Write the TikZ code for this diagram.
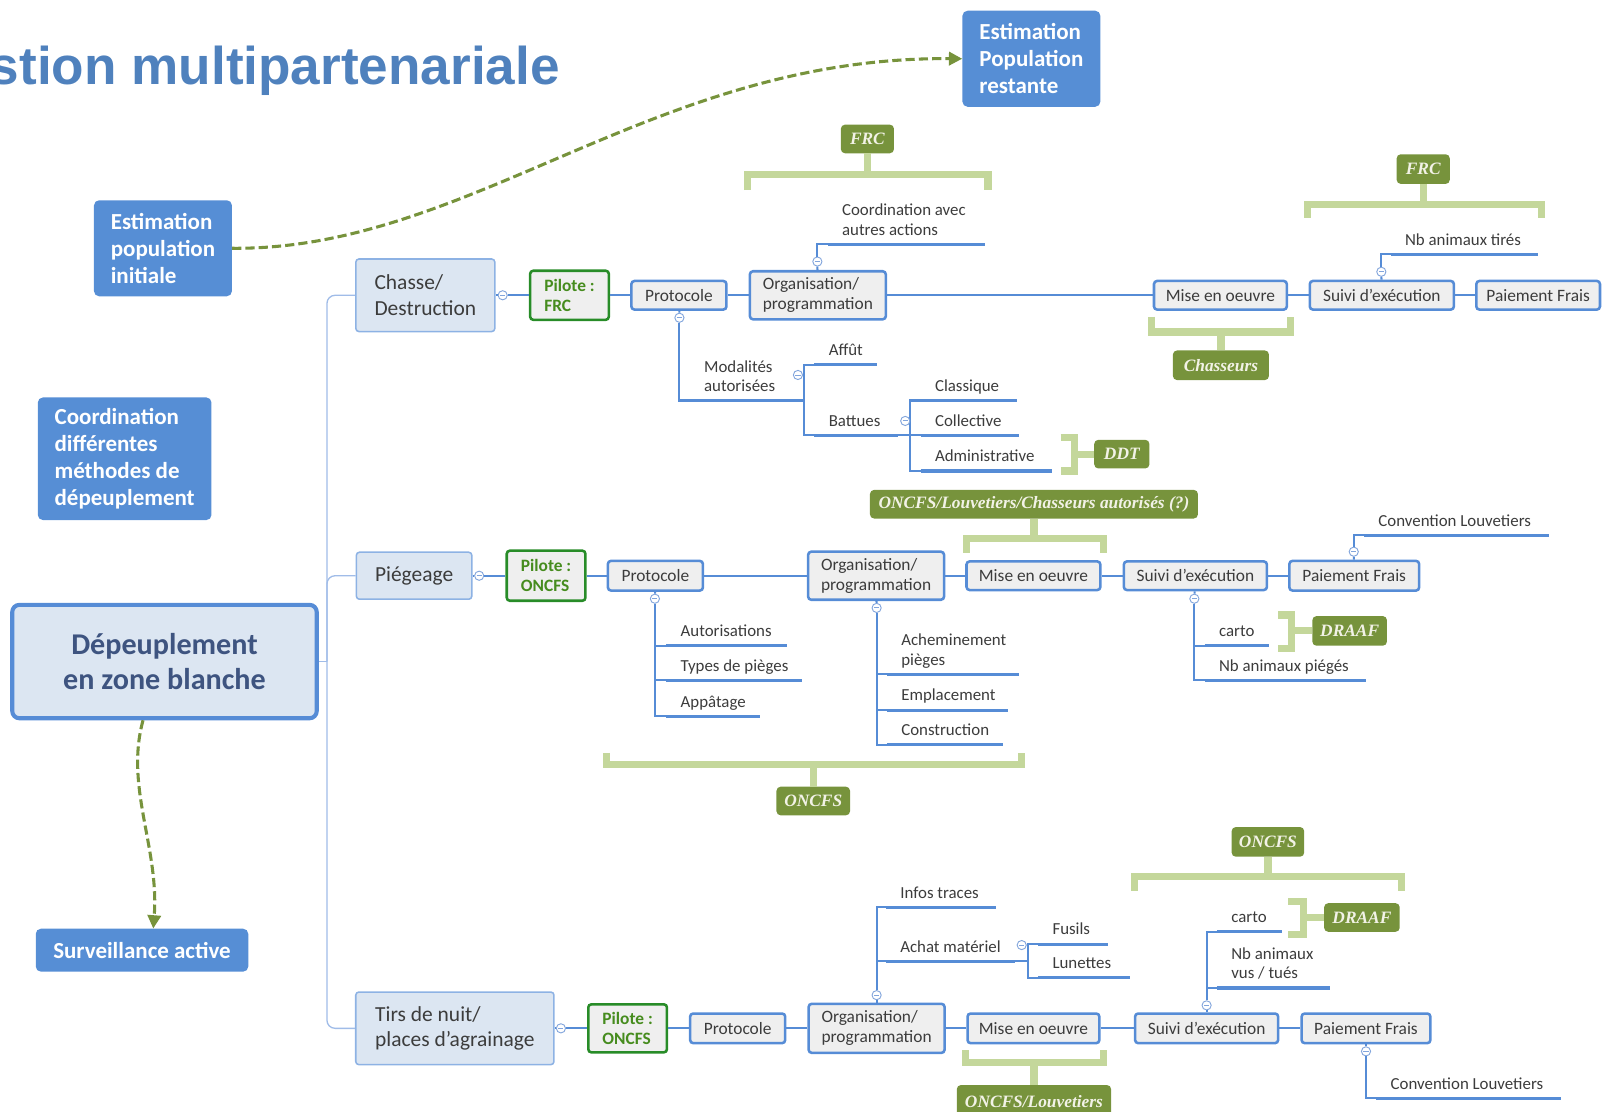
\documentclass[tikz,border=0pt]{standalone}
\usepackage{fontspec}
\setmainfont{Carlito}
\newfontfamily\titlefont{Liberation Sans}
\newfontfamily\labelfont{Liberation Serif}
\usetikzlibrary{arrows.meta}
\definecolor{titleblue}{RGB}{79,129,189}
\definecolor{boxblue}{RGB}{86,142,213}
\definecolor{stepblue}{RGB}{86,140,214}
\definecolor{stepfill}{RGB}{239,239,239}
\definecolor{lfill}{RGB}{220,230,242}
\definecolor{ldraw}{RGB}{141,178,228}
\definecolor{trunkblue}{RGB}{160,188,232}
\definecolor{pilotgreen}{RGB}{40,140,40}
\definecolor{pilottext}{RGB}{70,140,30}
\definecolor{olive}{RGB}{119,147,60}
\definecolor{brkgreen}{RGB}{196,215,155}
\definecolor{maintext}{RGB}{62,84,128}
\definecolor{txt}{RGB}{60,60,60}
\definecolor{labtext}{RGB}{242,242,230}
\definecolor{circ}{RGB}{130,165,220}
\tikzset{
  wh/.style 2 args={minimum width=#1pt, minimum height=#2pt},
  bluebox/.style={fill=boxblue, rounded corners=5pt, text=white, inner sep=0pt,
    font=\bfseries\fontsize{22.5}{26.5}\selectfont, align=left},
  mainbox/.style={draw=stepblue, line width=4pt, fill=lfill, rounded corners=7pt, inner sep=0pt,
    text=maintext, font=\bfseries\fontsize{29.5}{35}\selectfont, align=center},
  lonebox/.style={draw=ldraw, line width=1.5pt, fill=lfill, rounded corners=3pt, inner sep=0pt,
    text=txt, font=\fontsize{21}{25}\selectfont, align=left},
  pilotbox/.style={draw=pilotgreen, line width=2.5pt, fill=stepfill, rounded corners=3pt, inner sep=0pt,
    text=pilottext, font=\bfseries\fontsize{17}{19.5}\selectfont, align=left},
  stepbox/.style={draw=stepblue, line width=2.5pt, fill=stepfill, rounded corners=3pt, inner sep=0pt,
    text=txt, font=\fontsize{17}{19.5}\selectfont, align=left},
  greenbox/.style={fill=olive, rounded corners=4pt, inner sep=0pt, text=labtext,
    font=\labelfont\bfseries\itshape\fontsize{17}{19}\selectfont},
  leaftext/.style={anchor=south west, inner sep=0pt, text=txt, align=left,
    font=\fontsize{16.5}{19}\selectfont, execute at end node=\strut},
  uline/.style={draw=stepblue, line width=3pt},
  branch/.style={draw=stepblue, line width=2pt},
  rowline/.style={draw=stepblue, line width=2pt},
  trunk/.style={draw=trunkblue, line width=1.3pt},
  brk/.style={draw=brkgreen, line width=7pt},
  collapse/.style={circle, draw=circ, fill=white, line width=0.9pt, minimum size=9pt, inner sep=0pt,
    path picture={\draw[circ, line width=0.9pt] ([xshift=-2.5pt]path picture bounding box.center) -- ([xshift=2.5pt]path picture bounding box.center);}},
  dasharrow/.style={draw=olive, line width=3pt, dash pattern=on 9pt off 4pt,
    -{Triangle[length=13pt,width=13pt]}},
}
\newcommand\leafnode[5]{%
  \coordinate (#1) at (#2,#3);
  \coordinate (#1-e) at (#2+#4,#3);
  \node[leaftext] (#1-t) at (#2+14,#3-3) {#5};
  \draw[uline] (#1) -- (#1-e);
}
\begin{document}
\begin{tikzpicture}[x=1pt,y=-1pt]
\useasboundingbox (0,0) rectangle (1568,1088);

% title (cut at the left edge, as in the reference)
\node[anchor=base east, inner sep=0pt, text=titleblue,
  font=\titlefont\bfseries\fontsize{52}{60}\selectfont] (title) at (548,83) {stion multipartenariale};

% blue boxes
\node[bluebox, wh={135}{94}] (estinit) at (159.5,243) {Estimation\\population\\initiale};
\node[bluebox, wh={135}{94}] (estrest) at (1009.5,57.5) {Estimation\\Population\\restante};
\node[bluebox, wh={170}{120}] (coord) at (122,449) {Coordination\\différentes\\méthodes de\\dépeuplement};
\node[bluebox, wh={208}{42}] (surv) at (139,930) {Surveillance active};

% main
\node[mainbox, wh={298}{111}] (main) at (161,647.5) {Dépeuplement\\en zone blanche};

% level 1
\node[lonebox, wh={136}{71}] (chasse) at (416.3,289) {Chasse/\\Destruction};
\node[lonebox, wh={113}{46}] (piege) at (405.3,563.5) {Piégeage};
\node[lonebox, wh={194}{71}] (tirs) at (445.2,1006.5) {Tirs de nuit/\\places d'agrainage};

% row 1
\node[collapse] (c1) at (492,289) {};
\node[pilotbox, wh={77}{48}] (p1) at (557.4,289) {Pilote :\\FRC};
\node[stepbox, wh={93}{28}] (prot1) at (664.5,289) {Protocole};
\node[stepbox, wh={133}{47}] (org1) at (800.5,289) {Organisation/\\programmation};
\node[stepbox, wh={130}{28}] (mise1) at (1194.5,289) {Mise en oeuvre};
\node[stepbox, wh={141}{28}] (suivi1) at (1352.5,289) {Suivi d'exécution};
\node[stepbox, wh={121}{28}] (paie1) at (1505.5,289) {Paiement Frais};

% row 2
\node[collapse] (c2) at (469,563.5) {};
\node[pilotbox, wh={77}{49}] (p2) at (534.5,563.5) {Pilote :\\ONCFS};
\node[stepbox, wh={93}{29}] (prot2) at (641.5,563.5) {Protocole};
\node[stepbox, wh={133}{47}] (org2) at (857.5,563.5) {Organisation/\\programmation};
\node[stepbox, wh={131}{28}] (mise2) at (1011.5,563.5) {Mise en oeuvre};
\node[stepbox, wh={140}{28}] (suivi2) at (1170,563.5) {Suivi d'exécution};
\node[stepbox, wh={127}{29}] (paie2) at (1325.5,563.5) {Paiement Frais};

% row 3
\node[collapse] (c3) at (549,1006.5) {};
\node[pilotbox, wh={77}{47}] (p3) at (614.3,1006.5) {Pilote :\\ONCFS};
\node[stepbox, wh={93}{29}] (prot3) at (722,1006.5) {Protocole};
\node[stepbox, wh={133}{48}] (org3) at (858,1006.5) {Organisation/\\programmation};
\node[stepbox, wh={129}{29}] (mise3) at (1011.5,1006.5) {Mise en oeuvre};
\node[stepbox, wh={140}{29}] (suivi3) at (1181,1006.5) {Suivi d'exécution};
\node[stepbox, wh={126}{29}] (paie3) at (1337,1006.5) {Paiement Frais};

% trunk
\coordinate (tr) at (320,647.5);
\draw[trunk] (main.east) -- (tr);
\draw[trunk, rounded corners=8pt] (chasse.west) -| (tr) |- (tirs.west);
\draw[trunk, rounded corners=8pt] (tr) |- (piege.west);

% row lines
\draw[rowline] (chasse) -- (c1) -- (p1) -- (prot1) -- (org1) -- (mise1) -- (suivi1) -- (paie1);
\draw[rowline] (piege) -- (c2) -- (p2) -- (prot2) -- (org2) -- (mise2) -- (suivi2) -- (paie2);
\draw[rowline] (tirs) -- (c3) -- (p3) -- (prot3) -- (org3) -- (mise3) -- (suivi3) -- (paie3);

% ---- Chasse leaves
\leafnode{coordav}{810}{239}{154}{Coordination avec\\autres actions}
\node[collapse] (k4) at (800,256) {};
\draw[branch] (org1) -- (k4);
\draw[branch] (k4) |- (coordav);

\leafnode{nbt}{1361}{249}{144}{Nb animaux tirés}
\node[collapse] (k5) at (1352,266) {};
\draw[branch] (suivi1) -- (k5);
\draw[branch] (k5) |- (nbt);

\leafnode{modal}{675}{392}{100}{Modalités\\autorisées}
\node[collapse] (k1) at (665,311) {};
\draw[branch] (prot1) -- (k1);
\draw[branch] (k1) |- (modal);

\leafnode{affut}{797}{357}{61}{Affût}
\leafnode{battues}{797}{426}{82}{Battues}
\draw[branch] (modal-e) -- ++(12,0);
\draw[branch] (affut) -- ++(-10,0) |- (battues);
\node[collapse] (k2) at (781,367) {};

\leafnode{classique}{901}{392}{94}{Classique}
\leafnode{collective}{901}{426}{96}{Collective}
\leafnode{admin}{901}{461}{129}{Administrative}
\draw[branch] (battues-e) -- ++(12,0);
\draw[branch] (classique) -- ++(-10,0) |- (admin);
\draw[branch] (collective) -- ++(-10,0);
\node[collapse] (k3) at (886,412) {};

% ---- Piégeage leaves
\leafnode{autoris}{652}{632}{118}{Autorisations}
\leafnode{types}{652}{666}{133}{Types de pièges}
\leafnode{appat}{652}{701}{92}{Appâtage}
\node[collapse] (k6) at (641,586) {};
\draw[branch] (prot2) -- (k6);
\draw[branch] (k6) |- (appat);
\draw[branch] (autoris) -- ++(-11,0);
\draw[branch] (types) -- ++(-11,0);

\leafnode{achem}{868}{660}{129}{Acheminement\\pièges}
\leafnode{emplac}{868}{695}{119}{Emplacement}
\leafnode{constr}{868}{729}{114}{Construction}
\node[collapse] (k7) at (858,595) {};
\draw[branch] (org2) -- (k7);
\draw[branch] (k7) |- (constr);
\draw[branch] (achem) -- ++(-10,0);
\draw[branch] (emplac) -- ++(-10,0);

\leafnode{cartoa}{1179}{632}{63}{carto}
\leafnode{nbp}{1179}{666}{158}{Nb animaux piégés}
\node[collapse] (k8) at (1169,586) {};
\draw[branch] (suivi2) -- (k8);
\draw[branch] (k8) |- (nbp);
\draw[branch] (cartoa) -- ++(-10,0);

\leafnode{conva}{1335}{524}{181}{Convention Louvetiers}
\node[collapse] (k9) at (1325,540) {};
\draw[branch] (paie2) -- (k9);
\draw[branch] (k9) |- (conva);

% ---- Tirs leaves
\leafnode{infos}{867}{888}{108}{Infos traces}
\leafnode{achat}{867}{941}{126}{Achat matériel}
\node[collapse] (k10) at (858,974) {};
\draw[branch] (org3) -- (k10);
\draw[branch] (k10) |- (infos);
\draw[branch] (achat) -- ++(-9,0);

\leafnode{fusils}{1016}{924}{68}{Fusils}
\leafnode{lunettes}{1016}{957}{90}{Lunettes}
\draw[branch] (achat-e) -- ++(13,0);
\draw[branch] (fusils) -- ++(-10,0) |- (lunettes);
\node[collapse] (k11) at (1000,925) {};

\leafnode{cartob}{1191}{912}{64}{carto}
\leafnode{nbv}{1191}{967}{111}{Nb animaux\\vus / tués}
\node[collapse] (k12) at (1181,984) {};
\draw[branch] (suivi3) -- (k12);
\draw[branch] (k12) |- (cartob);
\draw[branch] (nbv) -- ++(-10,0);

\leafnode{convb}{1347}{1075}{181}{Convention Louvetiers}
\node[collapse] (k13) at (1337,1029) {};
\draw[branch] (paie3) -- (k13);
\draw[branch] (k13) |- (convb);

% ---- green labels and brackets
\node[greenbox, wh={52}{28}] (frca) at (849,136) {FRC};
\draw[brk] (732,186) -- (732,171) -- (967,171) -- (967,186);
\draw[brk] (frca.south) -- (849,171);

\node[greenbox, wh={52}{29}] (frcb) at (1393,165.5) {FRC};
\draw[brk] (1280,213) -- (1280,200) -- (1509,200) -- (1509,213);
\draw[brk] (frcb.south) -- (1393,200);

\node[greenbox, wh={94}{29}] (chass) at (1195,357.5) {Chasseurs};
\draw[brk] (1127,310) -- (1127,325) -- (1263,325) -- (1263,310);
\draw[brk] (chass.north) -- (1195,325);

\node[greenbox, wh={54}{28}] (ddt) at (1098,444.5) {DDT};
\draw[brk] (1038,428) -- (1052,428) -- (1052,461) -- (1038,461);
\draw[brk] (ddt.west) -- (1052,444.5);

\node[greenbox, wh={321}{28}] (olc) at (1012,493.5) {ONCFS/Louvetiers/Chasseurs autorisés (?)};
\draw[brk] (946,541) -- (946,527) -- (1080,527) -- (1080,541);
\draw[brk] (olc.south) -- (1012,527);

\node[greenbox, wh={72}{28}] (oncfsa) at (796,784) {ONCFS};
\draw[brk] (594,737) -- (594,748) -- (1000,748) -- (1000,737);
\draw[brk] (oncfsa.north) -- (796,748);

\node[greenbox, wh={73}{29}] (draafa) at (1321,617.5) {DRAAF};
\draw[brk] (1251,602) -- (1264,602) -- (1264,635) -- (1251,635);
\draw[brk] (draafa.west) -- (1264,617.5);

\node[greenbox, wh={71}{29}] (oncfsb) at (1241,824) {ONCFS};
\draw[brk] (1110,872) -- (1110,858) -- (1372,858) -- (1372,872);
\draw[brk] (oncfsb.south) -- (1241,858);

\node[greenbox, wh={74}{28}] (draafb) at (1333,898) {DRAAF};
\draw[brk] (1261,882.5) -- (1276,882.5) -- (1276,914.5) -- (1261,914.5);
\draw[brk] (draafb.west) -- (1276,898);

\node[greenbox, wh={151}{32}] (olb) at (1012,1078) {ONCFS/Louvetiers};
\draw[brk] (945,1028) -- (945,1040) -- (1080,1040) -- (1080,1028);
\draw[brk] (olb.north) -- (1012,1040);

% ---- dashed arrows
\draw[dasharrow] (estinit.east) .. controls (460,245) and (640,55) .. (estrest.west);
\draw[dasharrow] ([xshift=-21pt]main.south) .. controls (122,770) and (156,830) .. ([xshift=11pt]surv.north);
\end{tikzpicture}
\end{document}
